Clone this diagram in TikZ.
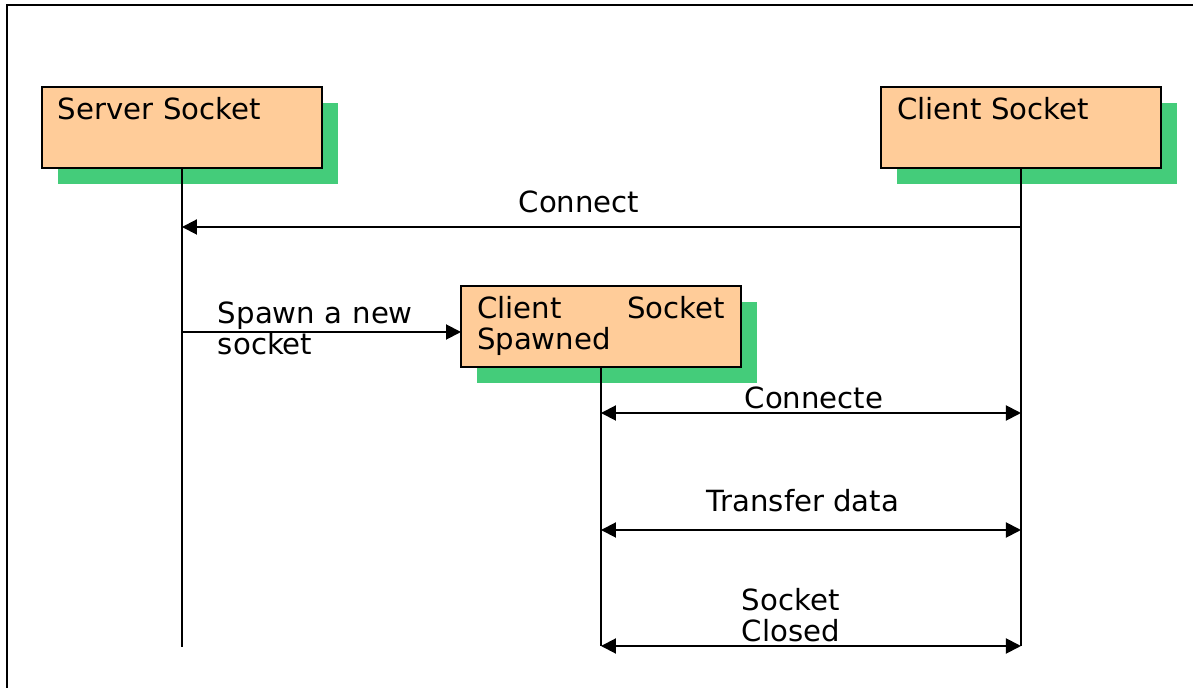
\documentclass[tikz,border=0pt]{standalone}
\usepackage{fontspec}
\setmainfont{DejaVu Sans}
\usepackage{xcolor}
\usepackage{tikz}
\usetikzlibrary{arrows.meta, shadows}

\definecolor{sockorange}{RGB}{255,204,153}
\definecolor{sockgreen}{RGB}{68,204,122}

\begin{document}
\begin{tikzpicture}[x=0.02cm, y=-0.02cm, line width=1.1pt,
  every node/.style={font=\fontsize{16.6pt}{17.6pt}\selectfont},
  sockbox/.style={draw, fill=sockorange, anchor=north west, align=left,
    inner xsep=0.32cm, inner ysep=0pt, text width=4.96cm,
    text height=0.66cm, text depth=0.96cm, outer sep=0pt,
    general shadow={fill=sockgreen, shadow xshift=0.32cm, shadow yshift=-0.32cm}},
  msg/.style={-{Triangle[length=0.3cm, width=0.3cm]}},
  both/.style={{Triangle[length=0.3cm, width=0.3cm]}-{Triangle[length=0.3cm, width=0.3cm]}}]
\clip (0,0) rectangle (1193,688);
\useasboundingbox (0,0) rectangle (1193,688);
% Frame
\draw (7,5) rectangle (1210,700);

% Sockets
\node[sockbox] (srv) at (42,87) {Server Socket};
\node[sockbox] (cli) at (881,87) {Client Socket};
\node[sockbox] (spw) at (461,286) {Client\hfill Socket\\Spawned};

% Lifelines
\coordinate (srvEnd) at (srv.south |- 0,647);
\coordinate (cliEnd) at (cli.south |- 0,646);
\coordinate (spwEnd) at (spw.south |- 0,646);
\draw (srv.south) -- (srvEnd);
\draw (cli.south) -- (cliEnd);
\draw (spw.south) -- (spwEnd);

% Messages
\draw[msg] (cli.south |- 0,227) -- (srv.south |- 0,227);
\draw[msg] (srv.south |- 0,332) -- (spw.west |- 0,332);
\draw[both] (spw.south |- 0,413) -- (cli.south |- 0,413);
\draw[both] (spw.south |- 0,530) -- (cli.south |- 0,530);
\draw[both] (spwEnd) -- (cliEnd);

% Labels
\node[anchor=base] (lconn) at (579,213) {Connect};
\node[anchor=base west, text width=5cm, inner sep=0pt] (lspawn) at (217,324) {Spawn a new\\socket};
\node[anchor=base] (lconnd) at (814,409) {Connecte};
\node[anchor=base] (ldata) at (803,512) {Transfer data};
\node[anchor=base west, text width=4cm, inner sep=0pt] (lclose) at (741,611) {Socket\\Closed};
\end{tikzpicture}
\end{document}
